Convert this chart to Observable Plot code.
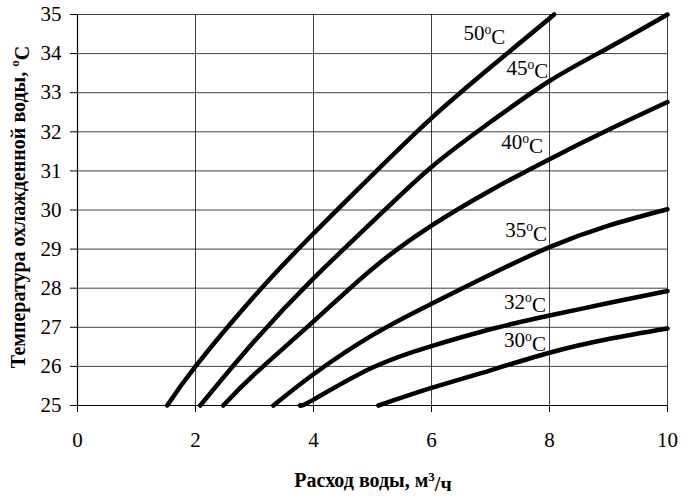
<!DOCTYPE html>
<html>
<head>
<meta charset="utf-8">
<script src="https://cdn.jsdelivr.net/npm/d3@7"></script>
<script src="https://cdn.jsdelivr.net/npm/@observablehq/plot@0.6"></script>
<style>
  html, body { margin: 0; padding: 0; background: white; }
  svg { display: block; }
  svg, svg text, svg tspan { font-family: "Liberation Serif", "Times New Roman", serif !important; }
</style>
</head>
<body>
<div id="chart"></div>
<script>
// ---- data ----
const xTicks = [0, 2, 4, 6, 8, 10];
const yTicks = [25, 26, 27, 28, 29, 30, 31, 32, 33, 34, 35];

const flow50 = [1.52, 2, 3, 4, 5, 6, 7, 8.08];
const temp50 = [25, 26.0, 27.8, 29.4, 30.9, 32.35, 33.65, 35];

const flow45 = [2.08, 3, 4, 5, 6, 7, 8, 9, 10];
const temp45 = [25, 26.65, 28.25, 29.7, 31.1, 32.25, 33.3, 34.15, 35];

const flow40 = [2.47, 3, 4, 5, 6, 7, 8, 9, 10];
const temp40 = [25, 25.8, 27.15, 28.5, 29.6, 30.5, 31.3, 32.05, 32.76];

const flow35 = [3.32, 4, 5, 6, 7, 8, 9, 10];
const temp35 = [25, 25.8, 26.8, 27.6, 28.35, 29.05, 29.6, 30.02];

const flow32 = [3.77, 4, 5, 6, 7, 8, 9, 10];
const temp32 = [25, 25.15, 25.97, 26.52, 26.95, 27.3, 27.62, 27.93];

const flow30 = [5.1, 6, 7, 8, 9, 10];
const temp30 = [25, 25.45, 25.9, 26.35, 26.7, 26.97];

const seriesNames = ["50", "45", "40", "35", "32", "30"];
const labelX = [7.25, 7.98, 7.89, 7.96, 7.94, 7.94];
const labelY = [34.51, 33.62, 31.72, 29.47, 27.65, 26.66];

const xTitle = "Расход воды, м";
const yTitle = "Температура охлажденной воды, ";

// ---- build table ----
const flows = [flow50, flow45, flow40, flow35, flow32, flow30];
const temps = [temp50, temp45, temp40, temp35, temp32, temp30];
const rows = [];
seriesNames.forEach((s, i) => {
  flows[i].forEach((f, j) => rows.push({series: s, flow: f, temp: temps[i][j]}));
});
const labelRows = seriesNames.map((s, i) => ({series: s, x: labelX[i], y: labelY[i]}));

const FONT = "Liberation Serif, Times New Roman, serif";
const W = 681, H = 496;
const chart = Plot.plot({
  width: W,
  height: H,
  marginLeft: 77,
  marginRight: 14,
  marginTop: 14,
  marginBottom: 91,
  style: {fontFamily: FONT, fontSize: "21px", color: "black", background: "white"},
  x: {domain: [0, 10]},
  y: {domain: [25, 35]},
  marks: [
    Plot.gridX(xTicks, {stroke: "black", strokeOpacity: 0.75, strokeWidth: 1}),
    Plot.gridY(yTicks, {stroke: "black", strokeOpacity: 0.75, strokeWidth: 1}),
    Plot.axisX({ticks: xTicks, tickSize: 7, tickPadding: 20, label: null, fontSize: 21, tickFormat: d => String(d)}),
    Plot.axisY({ticks: yTicks, tickSize: 7, tickPadding: 9, label: null, fontSize: 21, tickFormat: d => String(d)}),
    Plot.ruleX([0], {stroke: "black", strokeWidth: 1.2}),
    Plot.ruleY([25], {stroke: "black", strokeWidth: 1.2}),
    Plot.line(rows, {x: "flow", y: "temp", z: "series", stroke: "black", strokeWidth: 4.5, curve: "natural"}),
    Plot.text(labelRows, {x: "x", y: "y", text: d => d.series + "oC", textAnchor: "end", fontSize: 21, className: "curve-labels"})
  ]
});
document.getElementById("chart").appendChild(chart);

const svg = d3.select(chart);
svg.attr("font-family", FONT);

// superscript "o" in curve labels
svg.selectAll(".curve-labels text").each(function() {
  const t = d3.select(this);
  const full = t.text();
  const num = full.slice(0, full.length - 2);
  t.text(null);
  t.append("tspan").text(num);
  t.append("tspan").attr("dy", "-0.45em").attr("font-size", "0.65em").text("o");
  t.append("tspan").attr("dy", "0.45em").text("C");
});

// axis titles
const xt = svg.append("text")
  .attr("x", 373)
  .attr("y", 487)
  .attr("text-anchor", "middle")
  .attr("font-weight", "bold")
  .attr("font-size", 20);
xt.append("tspan").text(xTitle);
xt.append("tspan").attr("dy", "-0.5em").attr("font-size", "0.65em").text("3");
xt.append("tspan").attr("dy", "0.5em").text("/ч");

const yt = svg.append("text")
  .attr("transform", "translate(25, 207) rotate(-90)")
  .attr("text-anchor", "middle")
  .attr("font-weight", "bold")
  .attr("font-size", 20);
yt.append("tspan").text(yTitle);
yt.append("tspan").attr("dy", "-0.5em").attr("font-size", "0.65em").text("o");
yt.append("tspan").attr("dy", "0.5em").text("C");

svg.selectAll("text").attr("font-family", FONT);
</script>
</body>
</html>
